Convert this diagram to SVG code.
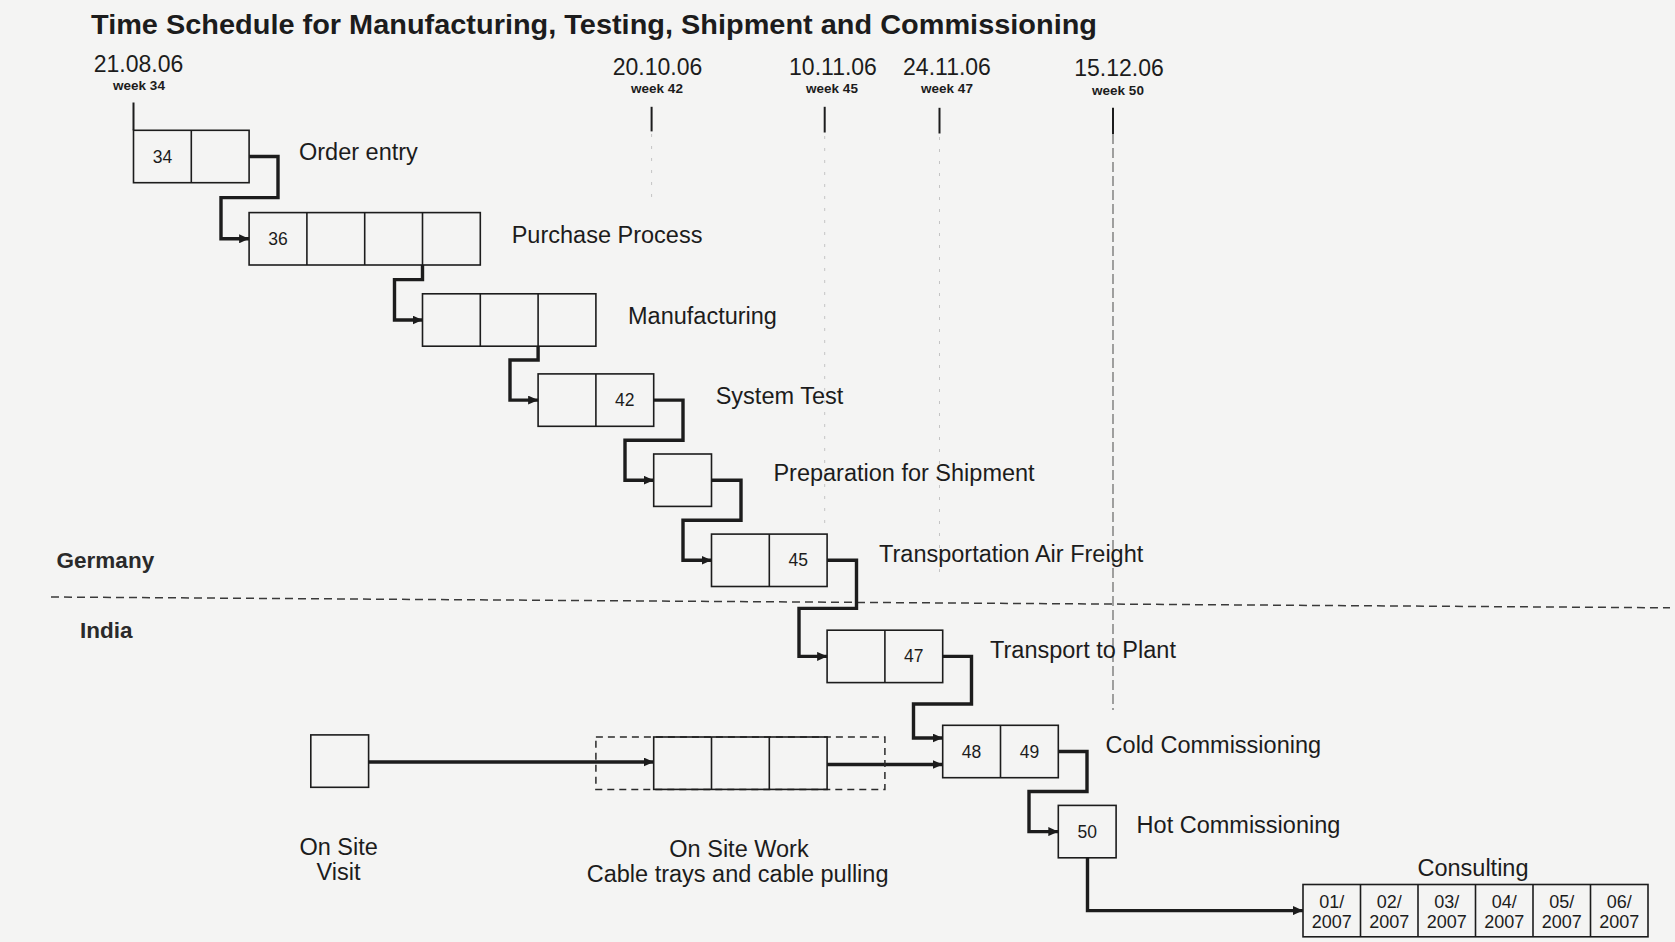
<svg xmlns="http://www.w3.org/2000/svg" width="1675" height="942" viewBox="0 0 1675 942">
<defs>
<style>
text{font-family:"Liberation Sans",Arial,Helvetica,sans-serif;fill:#1c1c1c}
.title{font-size:27.5px;font-weight:bold}
.date{font-size:23px;text-anchor:middle}
.week{font-size:13.5px;font-weight:bold;text-anchor:middle}
.lbl{font-size:23.5px}
.num{font-size:17.5px;text-anchor:middle}
.cnum{font-size:18px;text-anchor:middle}
.region{font-size:22.5px;font-weight:bold;fill:#2a2a2a}
.box{fill:none;stroke:#1c1c1c;stroke-width:1.6}
.div{stroke:#1c1c1c;stroke-width:1.6}
.tick{stroke:#1c1c1c;stroke-width:2}
.guide{stroke:#c4c4c4;stroke-width:1;stroke-dasharray:3 9}
.guide50{stroke:#666;stroke-width:1.2;stroke-dasharray:10 4}
.sep{stroke:#3a3a3a;stroke-width:1.5;stroke-dasharray:8 5;fill:none}
.dbox{fill:none;stroke:#2a2a2a;stroke-width:1.5;stroke-dasharray:7 5}
.conn{fill:none;stroke:#1c1c1c;stroke-width:3.4;stroke-linejoin:miter;marker-end:url(#arr)}
</style>
<marker id="arr" markerUnits="userSpaceOnUse" markerWidth="10" markerHeight="9" refX="10" refY="4.5" orient="auto">
<path d="M0,0 L10,4.5 L0,9 z" fill="#1c1c1c"/>
</marker>
</defs>
<rect x="0" y="0" width="1675" height="942" fill="#f4f4f3"/>

<text class="title" x="91" y="34" textLength="1006" lengthAdjust="spacingAndGlyphs">Time Schedule for Manufacturing, Testing, Shipment and Commissioning</text>

<g id="timeline">
<text class="date" x="138.5" y="71.5">21.08.06</text>
<text class="week" x="139" y="89.7">week 34</text>
<text class="date" x="657.5" y="75">20.10.06</text>
<text class="week" x="657" y="93">week 42</text>
<text class="date" x="833" y="75">10.11.06</text>
<text class="week" x="832" y="93">week 45</text>
<text class="date" x="947" y="75">24.11.06</text>
<text class="week" x="947" y="93">week 47</text>
<text class="date" x="1119" y="76">15.12.06</text>
<text class="week" x="1118" y="95">week 50</text>
<line class="tick" x1="133.5" y1="102.5" x2="133.5" y2="130.3"/>
<line class="tick" x1="651.6" y1="106.8" x2="651.6" y2="131.4"/>
<line class="tick" x1="824.7" y1="106.8" x2="824.7" y2="132.5"/>
<line class="tick" x1="939.5" y1="107.8" x2="939.5" y2="133.5"/>
<line class="tick" x1="1113" y1="107.8" x2="1113" y2="134"/>
<line class="guide" x1="651.6" y1="134" x2="651.6" y2="200"/>
<line class="guide" x1="824.7" y1="136" x2="824.7" y2="530"/>
<line class="guide" x1="939.5" y1="137" x2="939.5" y2="580"/>
<line class="guide50" x1="1113" y1="134" x2="1113" y2="710"/>
</g>

<g id="regions">
<text class="region" x="56.6" y="568.3">Germany</text>
<text class="region" x="80" y="637.7">India</text>
<line class="sep" x1="51" y1="597" x2="1670" y2="607.8"/>
</g>

<g id="connectors">
<path class="conn" d="M249.1,156.5 H278 V197.6 H221 V238.8 H249.1"/>
<path class="conn" d="M422.5,265 V279.6 H394.5 V320 H422.5"/>
<path class="conn" d="M538.1,346.2 V360 H510 V400.1 H538.1"/>
<path class="conn" d="M653.7,400.1 H683 V440.2 H625 V480.2 H653.7"/>
<path class="conn" d="M711.5,480.2 H741 V520.2 H683 V560.3 H711.5"/>
<path class="conn" d="M827.1,560.3 H856.5 V608.4 H799 V656.4 H827.1"/>
<path class="conn" d="M942.7,656.4 H971.5 V704 H913.5 V738 H942.7"/>
<path class="conn" d="M1058.3,751.5 H1087 V791.5 H1029 V831.6 H1058.3"/>
<path class="conn" d="M1087.5,857.8 V910.6 H1303"/>
<path class="conn" d="M368.6,762 H653.7"/>
<path class="conn" d="M827.1,764.5 H942.7"/>
</g>

<g id="order-entry">
<rect class="box" x="133.5" y="130.3" width="115.6" height="52.4"/>
<line class="div" x1="191.3" y1="130.3" x2="191.3" y2="182.7"/>
<text class="num" x="162.4" y="162.5">34</text>
<text class="lbl" x="299" y="160.2">Order entry</text>
</g>

<g id="purchase-process">
<rect class="box" x="249.1" y="212.6" width="231.2" height="52.4"/>
<line class="div" x1="306.9" y1="212.6" x2="306.9" y2="265"/>
<line class="div" x1="364.7" y1="212.6" x2="364.7" y2="265"/>
<line class="div" x1="422.5" y1="212.6" x2="422.5" y2="265"/>
<text class="num" x="278" y="244.8">36</text>
<text class="lbl" x="511.7" y="242.5">Purchase Process</text>
</g>

<g id="manufacturing">
<rect class="box" x="422.5" y="293.8" width="173.4" height="52.4"/>
<line class="div" x1="480.3" y1="293.8" x2="480.3" y2="346.2"/>
<line class="div" x1="538.1" y1="293.8" x2="538.1" y2="346.2"/>
<text class="lbl" x="628" y="323.7">Manufacturing</text>
</g>

<g id="system-test">
<rect class="box" x="538.1" y="373.9" width="115.6" height="52.4"/>
<line class="div" x1="595.9" y1="373.9" x2="595.9" y2="426.3"/>
<text class="num" x="624.8" y="406.1">42</text>
<text class="lbl" x="715.7" y="403.8">System Test</text>
</g>

<g id="preparation-for-shipment">
<rect class="box" x="653.7" y="454" width="57.8" height="52.4"/>
<text class="lbl" x="773.4" y="480.7">Preparation for Shipment</text>
</g>

<g id="transportation-air-freight">
<rect class="box" x="711.5" y="534.1" width="115.6" height="52.4"/>
<line class="div" x1="769.3" y1="534.1" x2="769.3" y2="586.5"/>
<text class="num" x="798.2" y="566.3">45</text>
<text class="lbl" x="879" y="561.9">Transportation Air Freight</text>
</g>

<g id="transport-to-plant">
<rect class="box" x="827.1" y="630.2" width="115.6" height="52.4"/>
<line class="div" x1="884.9" y1="630.2" x2="884.9" y2="682.6"/>
<text class="num" x="913.8" y="662.4">47</text>
<text class="lbl" x="990" y="658">Transport to Plant</text>
</g>

<g id="cold-commissioning">
<rect class="box" x="942.7" y="725.3" width="115.6" height="52.4"/>
<line class="div" x1="1000.5" y1="725.3" x2="1000.5" y2="777.7"/>
<text class="num" x="971.6" y="757.5">48</text>
<text class="num" x="1029.4" y="757.5">49</text>
<text class="lbl" x="1105.6" y="753">Cold Commissioning</text>
</g>

<g id="hot-commissioning">
<rect class="box" x="1058.3" y="805.4" width="57.8" height="52.4"/>
<text class="num" x="1087.2" y="837.6">50</text>
<text class="lbl" x="1136.6" y="833">Hot Commissioning</text>
</g>

<g id="on-site-visit">
<rect class="box" x="310.8" y="734.9" width="57.8" height="52.4"/>
<text class="lbl" x="338.6" y="854.6" text-anchor="middle">On Site</text>
<text class="lbl" x="338.6" y="880" text-anchor="middle">Visit</text>
</g>

<g id="on-site-work">
<rect class="dbox" x="595.9" y="737" width="289" height="52.4"/>
<rect class="box" x="653.7" y="737" width="173.4" height="52.4"/>
<line class="div" x1="711.5" y1="737" x2="711.5" y2="789.4"/>
<line class="div" x1="769.3" y1="737" x2="769.3" y2="789.4"/>
<text class="lbl" x="739" y="856.7" text-anchor="middle">On Site Work</text>
<text class="lbl" x="737.6" y="882.3" text-anchor="middle">Cable trays and cable pulling</text>
</g>

<g id="consulting">
<text class="lbl" x="1473" y="876" text-anchor="middle">Consulting</text>
<rect class="box" x="1303" y="884.5" width="345" height="52.3"/>
<line class="div" x1="1360.5" y1="884.5" x2="1360.5" y2="936.8"/>
<line class="div" x1="1418" y1="884.5" x2="1418" y2="936.8"/>
<line class="div" x1="1475.5" y1="884.5" x2="1475.5" y2="936.8"/>
<line class="div" x1="1533" y1="884.5" x2="1533" y2="936.8"/>
<line class="div" x1="1590.5" y1="884.5" x2="1590.5" y2="936.8"/>
<text class="cnum" x="1331.75" y="908">01/</text>
<text class="cnum" x="1331.75" y="928">2007</text>
<text class="cnum" x="1389.25" y="908">02/</text>
<text class="cnum" x="1389.25" y="928">2007</text>
<text class="cnum" x="1446.75" y="908">03/</text>
<text class="cnum" x="1446.75" y="928">2007</text>
<text class="cnum" x="1504.25" y="908">04/</text>
<text class="cnum" x="1504.25" y="928">2007</text>
<text class="cnum" x="1561.75" y="908">05/</text>
<text class="cnum" x="1561.75" y="928">2007</text>
<text class="cnum" x="1619.25" y="908">06/</text>
<text class="cnum" x="1619.25" y="928">2007</text>
</g>
</svg>
